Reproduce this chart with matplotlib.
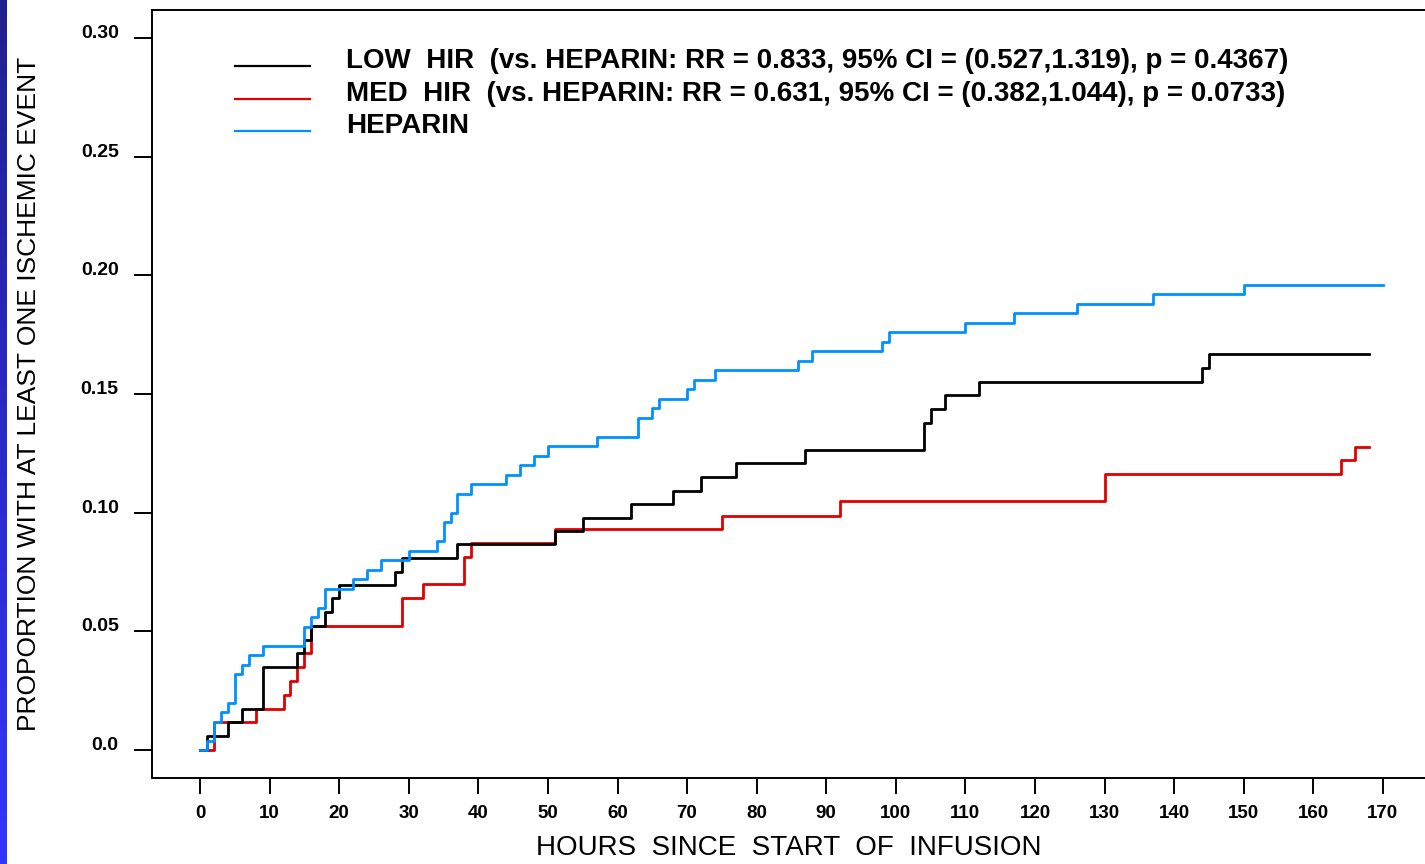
#!/usr/bin/env python3
# curvas de incidencia acumulada: HIR baja / HIR media / heparina

import numpy as np
import matplotlib
matplotlib.use("Agg")
import matplotlib.pyplot as plt
from matplotlib.colors import LinearSegmentedColormap
from matplotlib.transforms import ScaledTranslation

# Datos (horas, proporcion acumulada)
low_t = [0, 1, 4, 6, 9, 14, 15, 16, 18, 19, 20, 28, 29, 37, 51, 55, 62, 68, 72, 77,
         87, 104, 105, 107, 112, 144, 145, 168]
low_p = [0, 0.0058, 0.0116, 0.0174, 0.0349, 0.0407, 0.0465, 0.0523, 0.0581, 0.0640,
         0.0695, 0.0750, 0.0808, 0.0866, 0.0922, 0.0978, 0.1035, 0.1092, 0.1150, 0.1208,
         0.1265, 0.1379, 0.1435, 0.1496, 0.1552, 0.1608, 0.1667, 0.1667]

med_t = [0, 2, 8, 12, 13, 14, 15, 16, 29, 32, 38, 39, 51, 75, 92, 130, 164, 166, 168]
med_p = [0, 0.0116, 0.0174, 0.0232, 0.0290, 0.0349, 0.0407, 0.0523, 0.0640, 0.0698,
         0.0814, 0.0872, 0.0930, 0.0988, 0.1049, 0.1163, 0.1222, 0.1278, 0.1278]

hep_t = [0, 1, 2, 3, 4, 5, 6, 7, 9, 15, 16, 17, 18, 22, 24, 26, 30, 34, 35, 36, 37, 39,
         44, 46, 48, 50, 57, 63, 65, 66, 70, 71, 74, 86, 88, 98, 99, 110, 117, 126, 137,
         150, 170]
hep_p = [0, 0.004, 0.012, 0.016, 0.020, 0.032, 0.036, 0.040, 0.044, 0.052, 0.056, 0.060,
         0.068, 0.072, 0.076, 0.080, 0.084, 0.088, 0.096, 0.100, 0.108, 0.112, 0.116,
         0.120, 0.124, 0.128, 0.132, 0.140, 0.144, 0.148, 0.152, 0.156, 0.160, 0.164,
         0.168, 0.172, 0.176, 0.180, 0.184, 0.188, 0.192, 0.196, 0.196]

labels = ["LOW  HIR  (vs. HEPARIN: RR = 0.833, 95% CI = (0.527,1.319), p = 0.4367)",
          "MED  HIR  (vs. HEPARIN: RR = 0.631, 95% CI = (0.382,1.044), p = 0.0733)",
          "HEPARIN"]
x_ticks = list(range(0, 171, 10))
y_ticks = [0.0, 0.05, 0.10, 0.15, 0.20, 0.25, 0.30]
y_ticklabels = ["0.0", "0.05", "0.10", "0.15", "0.20", "0.25", "0.30"]

plt.rcParams['font.family'] = ['Liberation Sans', 'DejaVu Sans']

fig = plt.figure(figsize=(14.25, 8.64), dpi=100)

# franja azul a la izquierda (degradado)
strip = fig.add_axes([0, 0, 7 / 1425, 1])
cmap = LinearSegmentedColormap.from_list("franja", ["#20208e", "#3434ff"])
strip.imshow(np.linspace(0, 1, 256).reshape(-1, 1), aspect='auto', cmap=cmap)
strip.axis('off')

ax = fig.add_axes([152 / 1425, 1 - 778 / 864, 1 - 152 / 1425, 768 / 864])

lw = 2.0
ax.step(med_t, med_p, where='post', color='#e00000', lw=lw, label=labels[1])
ax.step(low_t, low_p, where='post', color='black', lw=lw, label=labels[0])
ax.step(hep_t, hep_p, where='post', color='#0091ff', lw=lw, label=labels[2])

ax.set_xlim(-6.9, 176.05)
ax.set_ylim(-0.0118, 0.3118)

ax.set_xticks(x_ticks)
ax.set_xticklabels([str(t) for t in x_ticks], fontsize=13.5, fontweight='bold')
ax.set_yticks(y_ticks)
ax.set_yticklabels(y_ticklabels, fontsize=14, fontweight='bold', va='baseline')
ax.tick_params(axis='y', length=13, width=1.4, pad=11)
ax.tick_params(axis='x', length=11.5, width=1.4, pad=8)

for s in ['left', 'bottom', 'top']:
    ax.spines[s].set_linewidth(1.4)
ax.spines['right'].set_visible(False)

ax.set_xlabel("HOURS  SINCE  START  OF  INFUSION", fontsize=20)
ax.xaxis.set_label_coords(0.5, -0.074)
ax.set_ylabel("PROPORTION WITH AT LEAST ONE ISCHEMIC EVENT", fontsize=19)
ax.yaxis.set_label_coords(-0.0872, 0.5)

h, l = ax.get_legend_handles_labels()
order = [1, 0, 2]
leg = ax.legend([h[i] for i in order], [l[i] for i in order],
                loc='upper left', bbox_to_anchor=(0.0652, 0.9505),
                frameon=False, fontsize=20, borderaxespad=0, borderpad=0,
                handlelength=2.7, handletextpad=1.3, labelspacing=0.234)
for t in leg.get_texts():
    t.set_fontweight('bold')
# las lineas de la leyenda van algo mas abajo que el texto
shift = ScaledTranslation(0, -0.08, fig.dpi_scale_trans)
for ln in leg.get_lines():
    ln.set_linewidth(1.6)
    ln.set_transform(ln.get_transform() + shift)

fig.savefig("out.png", dpi=100)
print("OK")
